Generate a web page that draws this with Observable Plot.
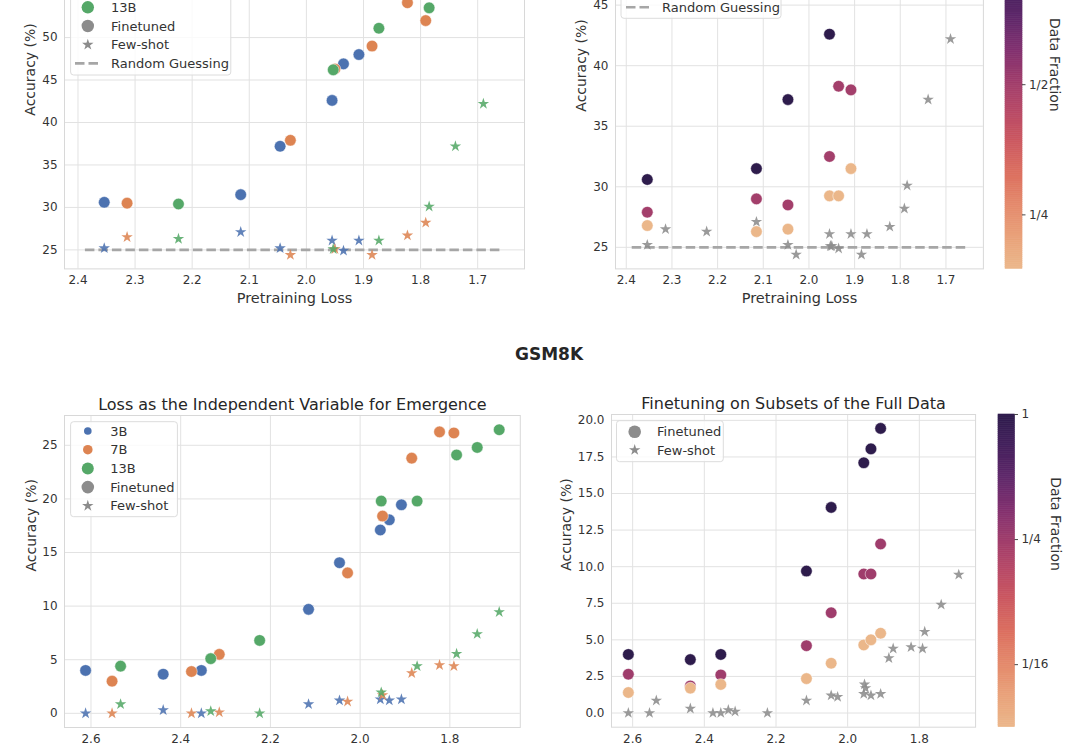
<!DOCTYPE html>
<html><head><meta charset="utf-8">
<script src="https://cdn.jsdelivr.net/npm/d3@7"></script>
<script src="https://cdn.jsdelivr.net/npm/@observablehq/plot@0.6"></script>
<style>
html,body{margin:0;padding:0;background:#fff;}
#stage{position:relative;width:1080px;height:744px;overflow:hidden;font-family:"DejaVu Sans",sans-serif;color:#262626;background:#fff;}
</style></head><body><div id="stage"></div>
<script>
// ---------------- data ----------------
const modelNames = ["3B", "7B", "13B"];
const modelColors = ["#4c72b0", "#dd8452", "#55a868"];
// pretraining loss of the checkpoints (x)
const loss3B  = [2.612, 2.439, 2.354, 2.115, 2.046, 1.955, 1.935, 1.908];
const loss7B  = [2.553, 2.376, 2.314, 2.028, 1.950, 1.885, 1.823, 1.791];
const loss13B = [2.534, 2.333, 2.224, 1.953, 1.873, 1.785, 1.739, 1.690];
// MMLU accuracy (%)
const mmluFinetuned3B  = [null, null, 30.6, 31.5, 37.2, 42.6, 46.9, 48.0];
const mmluFinetuned7B  = [null, null, 30.5, 37.9, 46.3, 49.0, 54.1, 52.0];
const mmluFinetuned13B = [null, null, 30.4, 46.2, 51.1, 53.5, null, null];
const mmluFewshot3B  = [null, null, 25.2, 27.1, 25.2, 26.1, 24.9, 26.1];
const mmluFewshot7B  = [null, null, 26.5, 24.4, 25.1, 24.4, 26.7, 28.2];
const mmluFewshot13B = [null, null, 26.3, 25.1, 26.1, 30.1, 37.2, 42.2];
// MMLU, 3B finetuned on subsets of the data
const mmluFractions = [1, 1/2, 3/16];
const mmluSubsetHalf = [null, null, 27.9, 29.0, 28.5, 32.5, 38.3, 38.0];
const mmluSubsetLow  = [null, null, 26.8, 26.3, 26.5, 29.25, 29.25, 31.5];
// GSM8K accuracy (%)
const gsmFinetuned3B  = [4.0, 3.65, 4.0, 9.7, 14.05, 17.1, 18.05, 19.45];
const gsmFinetuned7B  = [3.0, 3.9, 5.5, 13.1, 18.4, 23.8, 26.25, 26.15];
const gsmFinetuned13B = [4.4, 5.1, 6.8, 19.8, 19.8, 24.1, 24.8, 26.45];
const gsmFewshot3B  = [0.0, 0.3, 0.0, 0.85, 1.2, 1.3, 1.2, 1.3];
const gsmFewshot7B  = [0.0, 0.0, 0.1, 1.1, 1.7, 3.75, 4.5, 4.4];
const gsmFewshot13B = [0.85, 0.2, 0.0, 1.95, 4.4, 5.55, 7.4, 9.45];
// GSM8K, 3B finetuned on subsets of the data
const gsmFractions = [1, 1/4, 1/32];
const gsmSubsetQuarter = [2.65, 1.85, 2.6, 4.6, 6.85, 9.5, 9.5, 11.55];
const gsmSubsetLow     = [1.4, 1.7, 1.95, 2.35, 3.4, 4.65, 5.0, 5.45];
// ticks / labels
const mmluXTicks = [2.4, 2.3, 2.2, 2.1, 2.0, 1.9, 1.8, 1.7];
const mmluYTicks = [25, 30, 35, 40, 45, 50, 55];
const gsmXTicks = [2.6, 2.4, 2.2, 2.0, 1.8];
const gsmLeftYTicks = [0, 5, 10, 15, 20, 25];
const gsmRightYTicks = [0, 2.5, 5, 7.5, 10, 12.5, 15, 17.5, 20];
const mmluCbTicks = [1/2, 1/4];
const gsmCbTicks = [1, 1/4, 1/16];
const randomGuess = 25;
const randomGuessSpan = [2.387, 1.655];
const flareStops = ["#ebb78a", "#e9a27a", "#e48a6c", "#dc7160", "#cd5a60", "#b84966", "#9f3d6c", "#80306f", "#5f286a", "#44205c", "#2e1c4c"];

// ---------------- helpers ----------------
const stage = document.getElementById("stage");
const GRID = "#e2e2e2", FRAME = "#d8d8d8", GRAY = "#8c8c8c";
const cmap = d3.piecewise(d3.interpolateRgb, flareStops);
const fracLabel = d => d >= 0.999 ? "1" : "1/" + Math.round(1 / d);
const series = (loss, vals, extra = {}) =>
  loss.map((x, i) => ({x, y: vals[i], ...extra})).filter(d => d.y != null);

function placePlot(f, opts) {
  const ml = 90, mr = 70, mt = 40, mb = 45;
  const w = f.r - f.l, h = f.b - f.t;
  const svg = Plot.plot({
    width: w + ml + mr, height: h + mt + mb,
    marginLeft: ml, marginRight: mr, marginTop: mt, marginBottom: mb,
    style: {fontFamily: '"DejaVu Sans", sans-serif', fontSize: "12px", color: "#333", background: "transparent", overflow: "visible"},
    ...opts
  });
  svg.style.position = "absolute";
  svg.style.left = (f.l - ml) + "px";
  svg.style.top = (f.t - mt) + "px";
  svg.style.maxWidth = "none";
  stage.appendChild(svg);
}

function baseMarks(xTicks, yTicks, yFmt, yLabelDx) {
  return [
    Plot.gridX(xTicks, {stroke: GRID, strokeOpacity: 1, strokeWidth: 1}),
    Plot.gridY(yTicks, {stroke: GRID, strokeOpacity: 1, strokeWidth: 1}),
    Plot.frame({stroke: FRAME, strokeWidth: 1}),
    Plot.axisX(xTicks, {tickSize: 0, tickPadding: 7, tickFormat: d3.format(".1f"), label: null}),
    Plot.axisY(yTicks, {tickSize: 0, tickPadding: 7, tickFormat: yFmt, label: null}),
    Plot.text(["Accuracy (%)"], {frameAnchor: "left", dx: yLabelDx, rotate: -90, lineAnchor: "middle", fontSize: 14, fill: "#333"})
  ];
}
const dots = (data, fill) => Plot.dot(data, {x: "x", y: "y", r: 5.8, fill, stroke: "white", strokeWidth: 0.5});
const stars = (data, fill) => Plot.dot(data, {x: "x", y: "y", r: 3.6, symbol: "star", fill, fillOpacity: 0.88});
const guessLine = () => Plot.ruleY([{y: randomGuess, x1: randomGuessSpan[0], x2: randomGuessSpan[1]}],
  {y: "y", x1: "x1", x2: "x2", stroke: "#a6a6a6", strokeWidth: 2.6, strokeDasharray: "9.5,4"});
const xLabel = () => Plot.text(["Pretraining Loss"], {frameAnchor: "bottom", dy: 29, lineAnchor: "middle", fontSize: 14.5, fill: "#333"});
const title = (t, dy) => Plot.text([t], {frameAnchor: "top", dy, lineAnchor: "middle", fontSize: 16, fill: "#262626"});

const losses = [loss3B, loss7B, loss13B];

// ---------------- top-left: MMLU by model ----------------
{
  const ft = [mmluFinetuned3B, mmluFinetuned7B, mmluFinetuned13B];
  const fs = [mmluFewshot3B, mmluFewshot7B, mmluFewshot13B];
  const marks = [...baseMarks(mmluXTicks, mmluYTicks, d => d, -34), guessLine()];
  modelNames.forEach((m, i) => {
    marks.push(dots(series(losses[i], ft[i]), modelColors[i]));
    marks.push(stars(series(losses[i], fs[i]), modelColors[i]));
  });
  marks.push(xLabel());
  placePlot({l: 64.4, r: 524.4, t: -38.4, b: 268},
    {x: {domain: [2.4236, 1.618]}, y: {domain: [22.76, 58.84]}, marks});
}

// ---------------- top-right: MMLU data fractions ----------------
{
  const sub = [mmluFinetuned3B, mmluSubsetHalf, mmluSubsetLow];
  const marks = [...baseMarks(mmluXTicks, mmluYTicks, d => d, -34), guessLine()];
  const allStars = [];
  [mmluFewshot3B, mmluFewshot7B, mmluFewshot13B].forEach((v, i) => allStars.push(...series(losses[i], v)));
  marks.push(stars(allStars, GRAY));
  const pts = [];
  sub.forEach((v, i) => pts.push(...series(loss3B, v, {f: mmluFractions[i]})));
  marks.push(Plot.dot(pts, {x: "x", y: "y", r: 5.8, fill: "f", stroke: "white", strokeWidth: 0.5}));
  marks.push(xLabel());
  placePlot({l: 615.1, r: 983, t: -45.8, b: 268.6},
    {x: {domain: [2.4236, 1.618]}, y: {domain: [23.22, 49.18]},
     color: {type: "log", domain: [mmluFractions[2], 1], interpolate: cmap}, marks});
}

// ---------------- bottom-left: GSM8K by model ----------------
{
  const ft = [gsmFinetuned3B, gsmFinetuned7B, gsmFinetuned13B];
  const fs = [gsmFewshot3B, gsmFewshot7B, gsmFewshot13B];
  const marks = [...baseMarks(gsmXTicks, gsmLeftYTicks, d => d, -33.4)];
  modelNames.forEach((m, i) => {
    marks.push(dots(series(losses[i], ft[i]), modelColors[i]));
    marks.push(stars(series(losses[i], fs[i]), modelColors[i]));
  });
  marks.push(title("Loss as the Independent Variable for Emergence", -11));
  placePlot({l: 63.7, r: 519.5, t: 414.7, b: 726.7},
    {x: {domain: [2.659, 1.643]}, y: {domain: [-1.32, 27.78]}, marks});
}

// ---------------- bottom-right: GSM8K data fractions ----------------
{
  const sub = [gsmFinetuned3B, gsmSubsetQuarter, gsmSubsetLow];
  const marks = [...baseMarks(gsmXTicks, gsmRightYTicks, d3.format(".1f"), -44.6)];
  const allStars = [];
  [gsmFewshot3B, gsmFewshot7B, gsmFewshot13B].forEach((v, i) => allStars.push(...series(losses[i], v)));
  marks.push(stars(allStars, GRAY));
  const pts = [];
  sub.forEach((v, i) => pts.push(...series(loss3B, v, {f: gsmFractions[i]})));
  marks.push(Plot.dot(pts, {x: "x", y: "y", r: 5.8, fill: "f", stroke: "white", strokeWidth: 0.5}));
  marks.push(title("Finetuning on Subsets of the Full Data", -10.5));
  placePlot({l: 610.6, r: 974.7, t: 414, b: 726.7},
    {x: {domain: [2.659, 1.643]}, y: {domain: [-0.97, 20.40]},
     color: {type: "log", domain: [gsmFractions[2], 1], interpolate: cmap}, marks});
}

// ---------------- colorbars ----------------
function colorbar(f, vmin, ticks, labelDx) {
  const n = 160, k = Math.log(1 / vmin);
  const ramp = d3.range(n).map(i => ({
    a: vmin * Math.exp(k * i / n), b: vmin * Math.exp(k * (i + 1) / n), v: vmin * Math.exp(k * (i + 0.5) / n)
  }));
  const tickLen = 3.5 / (f.r - f.l);
  placePlot(f, {
    x: {domain: [0, 1], axis: null},
    y: {type: "log", domain: [vmin, 1], axis: null},
    color: {type: "log", domain: [vmin, 1], interpolate: cmap},
    marks: [
      Plot.rect(ramp, {x1: () => 0, x2: () => 1, y1: "a", y2: "b", fill: "v", stroke: "v", strokeWidth: 0.6}),
      Plot.ruleY(ticks, {y: d => d, x1: () => 1, x2: () => 1 + tickLen, stroke: "#333", strokeWidth: 0.9}),
      Plot.text(ticks, {y: d => d, x: () => 1, text: fracLabel, textAnchor: "start", lineAnchor: "middle", dx: 6.5, fontSize: 12, fill: "#333"}),
      Plot.text(["Data Fraction"], {frameAnchor: "right", dx: labelDx, rotate: 90, lineAnchor: "middle", fontSize: 14, fill: "#333"})
    ]
  });
}
colorbar({l: 1005, r: 1022, t: -45.8, b: 268.6}, mmluFractions[2], mmluCbTicks, 32);
colorbar({l: 998, r: 1014.5, t: 414, b: 726.7}, gsmFractions[2], gsmCbTicks, 40);

// ---------------- legends & section title (overlay) ----------------
const over = d3.create("svg").attr("width", 1080).attr("height", 744)
  .style("position", "absolute").style("left", "0px").style("top", "0px")
  .style("font-family", '"DejaVu Sans", sans-serif');
const starPath = d3.symbol(d3.symbolStar, Math.PI * 3.6 * 3.6)();

function legend(box, rows, markerX, textX) {
  over.append("rect").attr("x", box.x0).attr("y", box.y0).attr("width", box.x1 - box.x0).attr("height", box.y1 - box.y0)
    .attr("rx", 3).attr("fill", "white").attr("fill-opacity", 0.82).attr("stroke", "#dcdcdc").attr("stroke-width", 1);
  for (const r of rows) {
    if (r.type === "circle") {
      over.append("circle").attr("cx", markerX).attr("cy", r.y).attr("r", r.r).attr("fill", r.color);
    } else if (r.type === "star") {
      over.append("path").attr("d", starPath).attr("transform", `translate(${markerX},${r.y})`).attr("fill", r.color);
    } else {
      over.append("line").attr("x1", r.x1).attr("x2", r.x2).attr("y1", r.y).attr("y2", r.y)
        .attr("stroke", "#a6a6a6").attr("stroke-width", 2.6).attr("stroke-dasharray", "9.5,4");
    }
    over.append("text").attr("x", textX).attr("y", r.y).attr("dy", "0.35em").attr("font-size", 13)
      .attr("fill", "#333").text(r.label);
  }
}
legend({x0: 70.6, x1: 230.8, y0: -42, y1: 75}, [
  {label: modelNames[0], type: "circle", r: 3.8, color: modelColors[0], y: -30.1},
  {label: modelNames[1], type: "circle", r: 4.8, color: modelColors[1], y: -11.4},
  {label: modelNames[2], type: "circle", r: 6.2, color: modelColors[2], y: 7.3},
  {label: "Finetuned", type: "circle", r: 6.2, color: GRAY, y: 26.0},
  {label: "Few-shot", type: "star", color: GRAY, y: 44.7},
  {label: "Random Guessing", type: "dash", x1: 75, x2: 100, y: 63.4}
], 87.8, 111);
legend({x0: 621, x1: 781, y0: -42, y1: 18.3}, [
  {label: "Finetuned", type: "circle", r: 6.2, color: GRAY, y: -30.1},
  {label: "Few-shot", type: "star", color: GRAY, y: -11.4},
  {label: "Random Guessing", type: "dash", x1: 626, x2: 651, y: 7.3}
], 638, 662);
legend({x0: 70.6, x1: 177.4, y0: 421.7, y1: 516.7}, [
  {label: modelNames[0], type: "circle", r: 3.8, color: modelColors[0], y: 431},
  {label: modelNames[1], type: "circle", r: 4.8, color: modelColors[1], y: 449.7},
  {label: modelNames[2], type: "circle", r: 6.0, color: modelColors[2], y: 468.4},
  {label: "Finetuned", type: "circle", r: 6.3, color: GRAY, y: 487.1},
  {label: "Few-shot", type: "star", color: GRAY, y: 505.8}
], 87.8, 110.2);
legend({x0: 616.5, x1: 723.3, y0: 420.7, y1: 461.7}, [
  {label: "Finetuned", type: "circle", r: 6.3, color: GRAY, y: 431.7},
  {label: "Few-shot", type: "star", color: GRAY, y: 450}
], 634.7, 657);

over.append("text").attr("x", 549).attr("y", 354).attr("dy", "0.35em").attr("text-anchor", "middle")
  .attr("font-size", 17).attr("font-weight", "bold").attr("fill", "#262626").text("GSM8K");

stage.appendChild(over.node());
</script>
</body></html>
